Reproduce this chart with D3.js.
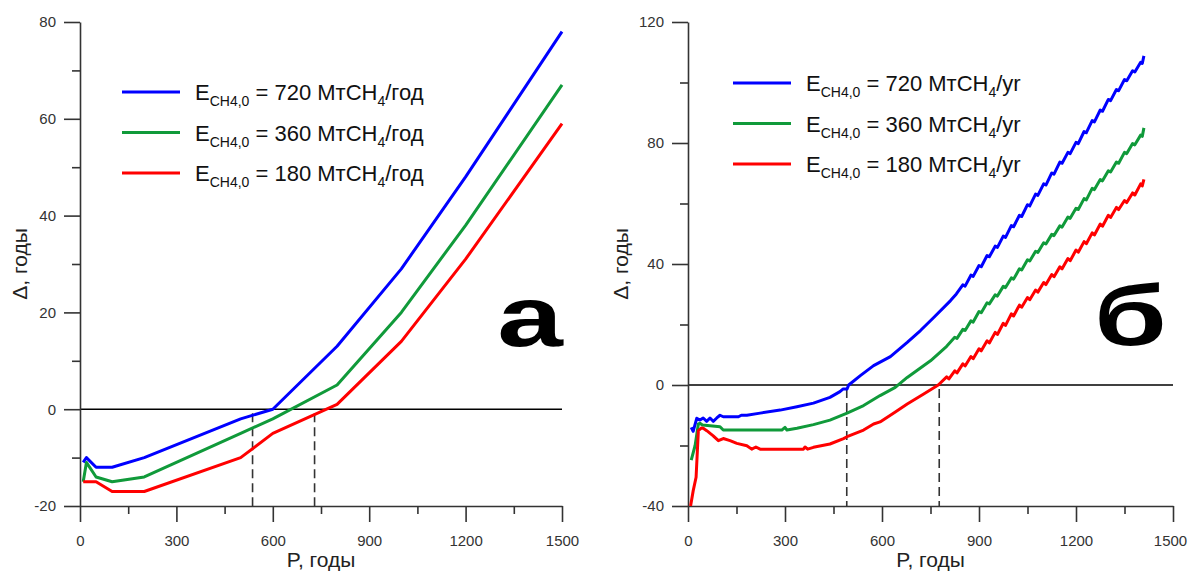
<!DOCTYPE html>
<html>
<head>
<meta charset="utf-8">
<script src="https://cdn.jsdelivr.net/npm/d3@7"></script>
<style>
    body { margin: 0; background: #fff; }
    text { font-family: "Liberation Sans", Arial, sans-serif; }
</style>
</head>
<body>
<div id="chart"></div>
<script>
// Panel "а": Delta vs P, three emission scenarios
var left_blue = [[10, -11], [20, -10], [50, -12], [100, -12], [200, -10], [500, -2], [600, 0], [800, 13], [1000, 29], [1200, 48], [1500, 78]];
var left_green = [[10, -15], [20, -11], [50, -14], [100, -15], [200, -14], [500, -5], [600, -2], [800, 5], [1000, 20], [1200, 38], [1500, 67]];
var left_red = [[10, -15], [20, -15], [50, -15], [100, -17], [200, -17], [500, -10], [600, -5], [800, 1], [1000, 14], [1200, 31], [1500, 59]];
var left_dashes = [537, 730];

// Panel "б": same
var right_blue = [[10, -14], [16, -15.3], [27, -11], [37, -11.6], [47, -10.9], [58, -12], [68, -10.9], [78, -12], [89, -10.9], [99, -10], [109, -10.5],
    [156, -10.5], [165, -10], [182, -10], [223, -9.3], [285, -8.3], [337, -7.2], [388, -6.0], [439, -4.1], [470, -2.2], [480, -1.3], [492, -1.3], [497, 0],
    [533, 3.1], [574, 6.4], [626, 9.4], [678, 14.1], [719, 18.0], [760, 22.3], [812, 27.9], [830, 30.1],
    [850, 33.1], [857, 32.7], [875, 36.3], [882, 35.9], [900, 39.5], [907, 39.1], [925, 42.8], [932, 42.4], [950, 45.9], [957, 45.5],
    [975, 49.2], [982, 48.8], [1000, 52.7], [1007, 52.3], [1025, 56.1], [1032, 55.7], [1050, 59.6], [1057, 59.2], [1075, 63.1], [1082, 62.7],
    [1100, 66.5], [1107, 66.1], [1125, 70.1], [1132, 69.7], [1150, 73.7], [1157, 73.3], [1175, 76.9], [1182, 76.5], [1200, 80.2], [1207, 79.8],
    [1225, 83.8], [1232, 83.4], [1250, 87.4], [1257, 87.0], [1275, 90.9], [1282, 90.5], [1300, 94.4], [1307, 94.0], [1325, 97.7], [1332, 97.3],
    [1350, 101.0], [1357, 100.6], [1375, 103.9], [1382, 103.5], [1400, 106.7], [1405, 106.3], [1410, 108.8]];
var right_green = [[10, -24.8], [22, -20], [32, -12.9], [37, -12.7], [45, -13.2], [99, -13.8], [109, -14.9], [290, -14.9], [300, -14.0], [306, -14.9],
    [337, -14.3], [388, -13.1], [439, -11.6], [492, -9.3], [543, -6.8], [594, -3.5], [641, -0.8], [678, 2.5], [750, 8.0], [800, 12.8],
    [825, 15.8], [832, 15.4], [850, 18.4], [857, 18.0], [875, 21.2], [882, 20.8], [900, 24.3], [907, 23.9], [925, 27.2], [932, 26.8],
    [950, 29.8], [957, 29.4], [975, 32.6], [982, 32.2], [1000, 35.4], [1007, 35.0], [1025, 38.4], [1032, 38.0], [1050, 41.4], [1057, 41.0],
    [1075, 44.2], [1082, 43.8], [1100, 47.0], [1107, 46.6], [1125, 49.8], [1132, 49.4], [1150, 52.6], [1157, 52.2], [1175, 55.5], [1182, 55.1],
    [1200, 58.4], [1207, 58.0], [1225, 61.6], [1232, 61.2], [1250, 65.0], [1257, 64.6], [1275, 67.9], [1282, 67.5], [1300, 70.8], [1307, 70.4],
    [1325, 73.7], [1332, 73.3], [1350, 76.9], [1357, 76.5], [1375, 79.8], [1382, 79.4], [1400, 82.6], [1405, 82.2], [1410, 85.0]];
var right_red = [[8, -40], [16, -35], [25, -30.5], [32, -15.1], [42, -14.2], [47, -14.3], [58, -15.1], [78, -16.8], [94, -18.4], [109, -17.7],
    [130, -18.4], [151, -19.3], [182, -20.1], [197, -21.2], [210, -20.5], [223, -21.2], [357, -21.2], [362, -20.5], [370, -21.2], [388, -20.6],
    [439, -19.5], [481, -17.7], [492, -17.1], [543, -14.9], [574, -12.9], [594, -12.2], [640, -9.0], [678, -6.3], [729, -3.0], [774, 0],
    [800, 2.7], [807, 2.0], [825, 4.7], [832, 4.0], [850, 7.0], [857, 6.3], [875, 9.4], [882, 8.7], [900, 12.0], [907, 11.3],
    [925, 14.6], [932, 13.9], [950, 17.4], [957, 16.7], [975, 20.4], [982, 19.7], [1000, 23.5], [1007, 22.8], [1025, 26.4], [1032, 25.7],
    [1050, 28.9], [1057, 28.2], [1075, 31.4], [1082, 30.7], [1100, 33.9], [1107, 33.2], [1125, 36.5], [1132, 35.8], [1150, 39.1], [1157, 38.4],
    [1175, 41.8], [1182, 41.1], [1200, 44.6], [1207, 43.9], [1225, 47.4], [1232, 46.7], [1250, 50.3], [1257, 49.6], [1275, 53.2], [1282, 52.5],
    [1300, 56.1], [1307, 55.4], [1325, 58.7], [1332, 58.0], [1350, 61.0], [1357, 60.3], [1375, 63.5], [1382, 62.8], [1400, 66.5], [1405, 65.8], [1410, 68.0]];
var right_dashes = [491, 777];

// ticks
var x_major = [0, 300, 600, 900, 1200, 1500];
var x_minor = [150, 450, 750, 1050, 1350];
var left_y_major = [-20, 0, 20, 40, 60, 80];
var left_y_minor = [-10, 10, 30, 50, 70];
var right_y_major = [-40, 0, 40, 80, 120];
var right_y_minor = [-20, 20, 60, 100];

// legend
var emissions = ["720", "360", "180"];
var series_colors = ["#0000ff", "#109a3a", "#ff0000"];

var svg = d3.select("#chart")
    .append("svg")
    .attr("width", 1189)
    .attr("height", 571);

draw_panel({
    left: 80, right: 562, top: 22, bottom: 506,
    yDomain: [-20, 80], yMajor: left_y_major, yMinor: left_y_minor,
    series: [left_blue, left_green, left_red], dashes: left_dashes,
    unit: "/год", legendX: 122, legendY: 92, lastLabelShift: 0,
    letter: "а", letterX: 563, letterY: 346, ytitleX: 27
});
draw_panel({
    left: 688, right: 1173, top: 22, bottom: 506,
    yDomain: [-40, 120], yMajor: right_y_major, yMinor: right_y_minor,
    series: [right_blue, right_green, right_red], dashes: right_dashes,
    unit: "/yr", legendX: 733, legendY: 83, lastLabelShift: -3,
    letter: "б", letterX: 1167, letterY: 345, ytitleX: 628
});

function style_axis(g) {
    g.attr("font-size", null).attr("font-family", null);
    g.selectAll("line, path").attr("stroke", "#333").attr("stroke-width", 1.6);
    g.selectAll("text").attr("fill", "#333").style("font-size", "15px");
}

function plain(d) { return String(d); }

function draw_panel(cfg) {
    var x = d3.scaleLinear().domain([0, 1500]).range([cfg.left, cfg.right]);
    var y = d3.scaleLinear().domain(cfg.yDomain).range([cfg.bottom, cfg.top]);

    // zero line
    svg.append("line")
        .attr("x1", x(0)).attr("x2", x(1500))
        .attr("y1", y(0)).attr("y2", y(0))
        .attr("stroke", "#000").attr("stroke-width", 1.5);

    // dashed markers
    svg.selectAll(null)
        .data(cfg.dashes)
        .enter().append("line")
        .attr("x1", function (d) { return x(d); })
        .attr("x2", function (d) { return x(d); })
        .attr("y1", y(0) + 4)
        .attr("y2", y(cfg.yDomain[0]))
        .attr("stroke", "#333").attr("stroke-width", 1.6)
        .attr("stroke-dasharray", "9,5");

    // X axis
    var xg = svg.append("g")
        .attr("transform", "translate(0," + cfg.bottom + ")")
        .call(d3.axisBottom(x).tickValues(x_major).tickFormat(plain).tickSize(16).tickSizeOuter(0).tickPadding(13))
        .call(style_axis);
    xg.selectAll(".tick text")
        .filter(function (d) { return d === 1500; })
        .attr("dx", cfg.lastLabelShift);
    svg.append("g")
        .attr("transform", "translate(0," + cfg.bottom + ")")
        .call(d3.axisBottom(x).tickValues(x_minor).tickSize(8).tickFormat(""))
        .call(style_axis)
        .select(".domain").remove();

    // Y axis
    svg.append("g")
        .attr("transform", "translate(" + cfg.left + ",0)")
        .call(d3.axisLeft(y).tickValues(cfg.yMajor).tickFormat(plain).tickSize(16).tickSizeOuter(0).tickPadding(8))
        .call(style_axis);
    svg.append("g")
        .attr("transform", "translate(" + cfg.left + ",0)")
        .call(d3.axisLeft(y).tickValues(cfg.yMinor).tickSize(8).tickFormat(""))
        .call(style_axis)
        .select(".domain").remove();

    // lines
    var line = d3.line()
        .x(function (d) { return x(d[0]); })
        .y(function (d) { return y(d[1]); });

    cfg.series.forEach(function (s, i) {
        svg.append("path")
            .datum(s)
            .attr("d", line)
            .attr("fill", "none")
            .attr("stroke", series_colors[i])
            .attr("stroke-width", 3)
            .attr("stroke-linejoin", "round");
    });

    // legend
    emissions.forEach(function (e, i) {
        var ly = cfg.legendY + i * 40.5;
        svg.append("line")
            .attr("x1", cfg.legendX).attr("x2", cfg.legendX + 58)
            .attr("y1", ly).attr("y2", ly)
            .attr("stroke", series_colors[i]).attr("stroke-width", 3);
        var t = svg.append("text")
            .attr("x", cfg.legendX + 73)
            .attr("y", ly + 8)
            .attr("fill", "#111")
            .style("font-size", "22px");
        t.append("tspan").text("E");
        t.append("tspan").attr("dy", 6).style("font-size", "14px").text("CH4,0");
        t.append("tspan").attr("dy", -6).text(" = " + e + " МтCH");
        t.append("tspan").attr("dy", 6).style("font-size", "14px").text("4");
        t.append("tspan").attr("dy", -6).text(cfg.unit);
    });

    // axis titles
    svg.append("text")
        .attr("x", (cfg.left + cfg.right) / 2)
        .attr("y", 567)
        .attr("text-anchor", "middle")
        .attr("fill", "#222")
        .style("font-size", "21px")
        .text("P, годы");
    svg.append("text")
        .attr("transform", "translate(" + cfg.ytitleX + "," + ((cfg.top + cfg.bottom) / 2) + ") rotate(-90)")
        .attr("text-anchor", "middle")
        .attr("fill", "#222")
        .style("font-size", "21px")
        .text("Δ, годы");

    // panel letter, a little wider and flatter than the plain bold glyph
    svg.append("text")
        .attr("transform", "translate(" + cfg.letterX + "," + cfg.letterY + ") scale(1.18,0.86)")
        .attr("text-anchor", "end")
        .attr("fill", "#000")
        .style("font-size", "100px")
        .style("font-weight", "bold")
        .text(cfg.letter);
}
</script>
</body>
</html>
